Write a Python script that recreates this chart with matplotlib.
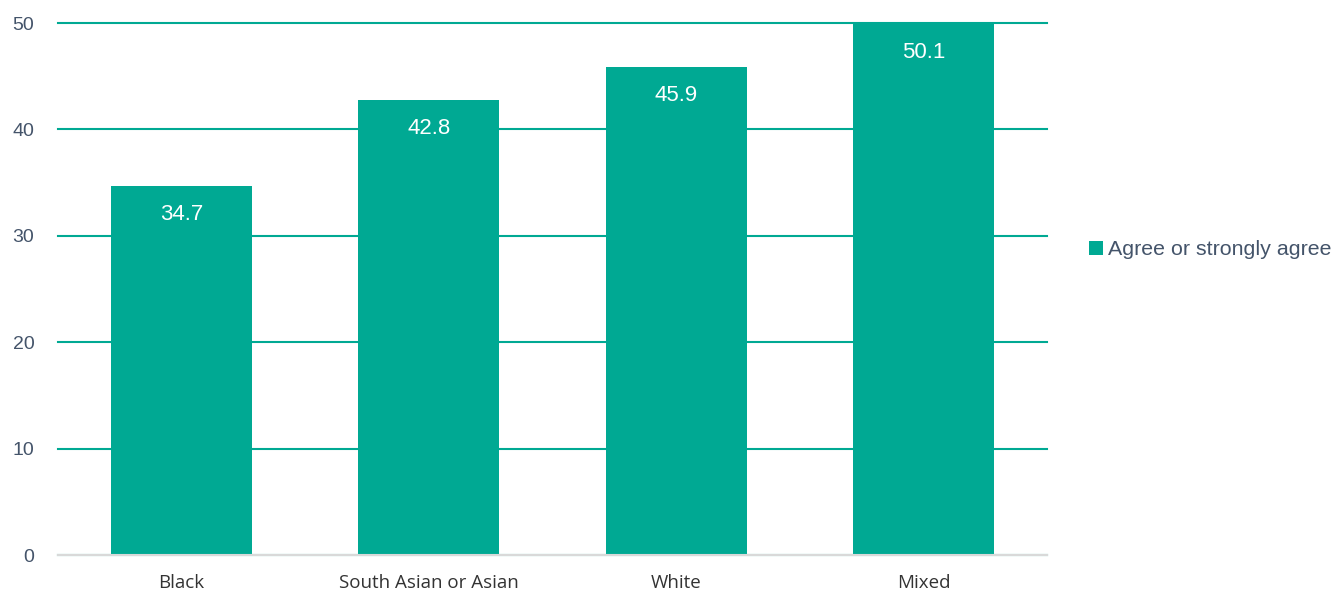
import matplotlib
matplotlib.use("Agg")
from matplotlib import pyplot as plt
import numpy as np

categorias = ["Black", "South Asian or Asian", "White", "Mixed"]
valores = [34.7, 42.8, 45.9, 50.1]
serie = "Agree or strongly agree"

verde = "#00a993"
cinza = "#44546a"

fig = plt.figure(figsize=(13.36, 5.92), dpi=100)
ax = fig.add_axes([0.0434, 0.0625, 0.7404, 0.8986])

x = np.arange(len(categorias))
barras = ax.bar(x, valores, width=0.57, color=verde, label=serie, zorder=2)

ax.set_xlim(-0.5, len(categorias) - 0.5)
ax.set_ylim(0, 50)
ax.set_yticks(range(0, 51, 10))
ax.grid(axis="y", color=verde, linewidth=1.5, zorder=1)
ax.set_axisbelow(True)
for g in ax.yaxis.get_gridlines():
    g.set_clip_on(False)

for s in ["top", "right", "left"]:
    ax.spines[s].set_visible(False)
ax.spines["bottom"].set_color("#d9d9d9")
ax.spines["bottom"].set_linewidth(1.5)
ax.spines["bottom"].set_zorder(4)

ax.tick_params(axis="both", length=0)
ax.tick_params(axis="y", pad=17, labelsize=14, labelcolor=cinza)
ax.set_yticklabels([str(v) for v in range(0, 51, 10)], family="Liberation Sans")
ax.set_xticks(x)
ax.set_xticklabels(categorias, family="Open Sans", fontsize=13.5, color="#333333")
ax.tick_params(axis="x", pad=14)

for b, v in zip(barras, valores):
    topo = min(v, 50)
    ax.annotate(f"{v:.1f}", (b.get_x() + b.get_width() / 2, topo),
                xytext=(0, -21), textcoords="offset points",
                ha="center", va="center", color="white", fontsize=16,
                family="Liberation Sans", zorder=5)

leg = fig.legend(loc="center left", bbox_to_anchor=(0.8005, 0.578), frameon=False,
                 prop={"family": "Liberation Sans", "size": 15.4},
                 handlelength=0.65, handleheight=0.65, handletextpad=0.25)
for t in leg.get_texts():
    t.set_color(cinza)

fig.savefig("out.png", dpi=100)
